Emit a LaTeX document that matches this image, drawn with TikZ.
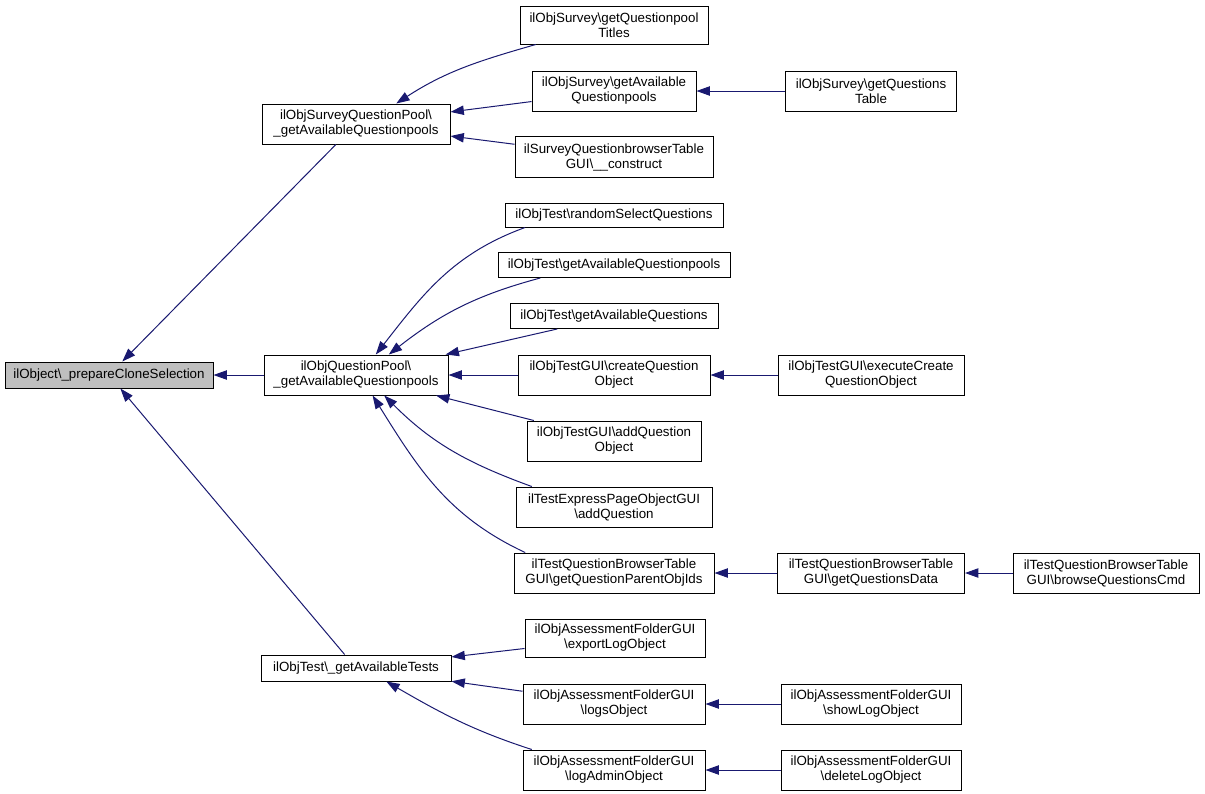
\documentclass[tikz,border=0pt]{standalone}
\usepackage{fontspec}
\setmainfont{Liberation Sans}
\usetikzlibrary{arrows.meta}
\definecolor{navy}{RGB}{25,25,112}
\definecolor{rootgray}{RGB}{191,191,191}
\begin{document}
\begin{tikzpicture}[x=0.75pt,y=-0.75pt,
  box/.style 2 args={draw=black, line width=0.75pt, fill=white, inner sep=0pt, align=center,
    font=\fontsize{10}{11.25}\selectfont, minimum width=#1*0.75pt, minimum height=#2*0.75pt},
  e/.style={draw=navy, line width=0.75pt, -{Triangle[length=10pt,width=7pt]}},
]
\useasboundingbox (0,0) rectangle (1205,793);

\node[box={208}{26}, fill=rootgray] (root) at (109,375) {ilObject\textbackslash\_prepareCloneSelection};
\node[box={188}{40}] (SQP) at (356,124) {ilObjSurveyQuestionPool\textbackslash\\\_getAvailableQuestionpools};
\node[box={184}{40}] (QP) at (356,375) {ilObjQuestionPool\textbackslash\\\_getAvailableQuestionpools};
\node[box={190}{26}] (TAT) at (356,668) {ilObjTest\textbackslash\_getAvailableTests};

\node[box={188}{38}] (A1) at (614,25) {ilObjSurvey\textbackslash getQuestionpool\\Titles};
\node[box={164}{40}] (A2) at (614,91) {ilObjSurvey\textbackslash getAvailable\\Questionpools};
\node[box={198}{41}] (A3) at (614,157) {ilSurveyQuestionbrowserTable\\GUI\textbackslash\_\_construct};
\node[box={218}{24}] (A4) at (614,215) {ilObjTest\textbackslash randomSelectQuestions};
\node[box={232}{25}] (A5) at (614,265) {ilObjTest\textbackslash getAvailableQuestionpools};
\node[box={208}{25}] (A6) at (614,316) {ilObjTest\textbackslash getAvailableQuestions};
\node[box={192}{40}] (A7) at (614,375) {ilObjTestGUI\textbackslash createQuestion\\Object};
\node[box={174}{40}] (A8) at (614,441) {ilObjTestGUI\textbackslash addQuestion\\Object};
\node[box={196}{40}] (A9) at (614,507) {ilTestExpressPageObjectGUI\\\textbackslash addQuestion};
\node[box={200}{40}] (A10) at (614,573) {ilTestQuestionBrowserTable\\GUI\textbackslash getQuestionParentObjIds};
\node[box={180}{38}] (A11) at (615,638) {ilObjAssessmentFolderGUI\\\textbackslash exportLogObject};
\node[box={182}{40}] (A12) at (614,704) {ilObjAssessmentFolderGUI\\\textbackslash logsObject};
\node[box={182}{40}] (A13) at (614,770) {ilObjAssessmentFolderGUI\\\textbackslash logAdminObject};

\node[box={171}{40}] (B1) at (871,91) {ilObjSurvey\textbackslash getQuestions\\Table};
\node[box={186}{40}] (B2) at (871,375) {ilObjTestGUI\textbackslash executeCreate\\QuestionObject};
\node[box={187}{40}] (B3) at (871,573) {ilTestQuestionBrowserTable\\GUI\textbackslash getQuestionsData};
\node[box={180}{40}] (B4) at (871,704) {ilObjAssessmentFolderGUI\\\textbackslash showLogObject};
\node[box={180}{40}] (B5) at (871,770) {ilObjAssessmentFolderGUI\\\textbackslash deleteLogObject};
\node[box={186}{40}] (C1) at (1106,573) {ilTestQuestionBrowserTable\\GUI\textbackslash browseQuestionsCmd};

\draw[e] (SQP) -- (root);
\draw[e] (QP) -- (root);
\draw[e] (TAT) -- (root);

\draw[e] (A1.194) to[out=196,in=33] (SQP.27);
\draw[e] (A2) -- (SQP);
\draw[e] (A3) -- (SQP);
\draw[e] (B1) -- (A2);

\draw[e] (A4.188) to[out=200,in=52] (QP.46);
\draw[e] (A5.190) to[out=195,in=38] (QP.32);
\draw[e] (A6) -- (QP);
\draw[e] (A7) -- (QP);
\draw[e] (A8) -- (QP);
\draw[e] (A9.166) to[out=160,in=-45] (QP.-36);
\draw[e] (A10.167) to[out=155,in=-58] (QP.-51);
\draw[e] (B2) -- (A7);
\draw[e] (B3) -- (A10);
\draw[e] (C1) -- (B3);

\draw[e] (A11) -- (TAT);
\draw[e] (A12) -- (TAT);
\draw[e] (A13.166) to[out=162,in=-30] (TAT.-24);
\draw[e] (B4) -- (A12);
\draw[e] (B5) -- (A13);
\end{tikzpicture}
\end{document}
